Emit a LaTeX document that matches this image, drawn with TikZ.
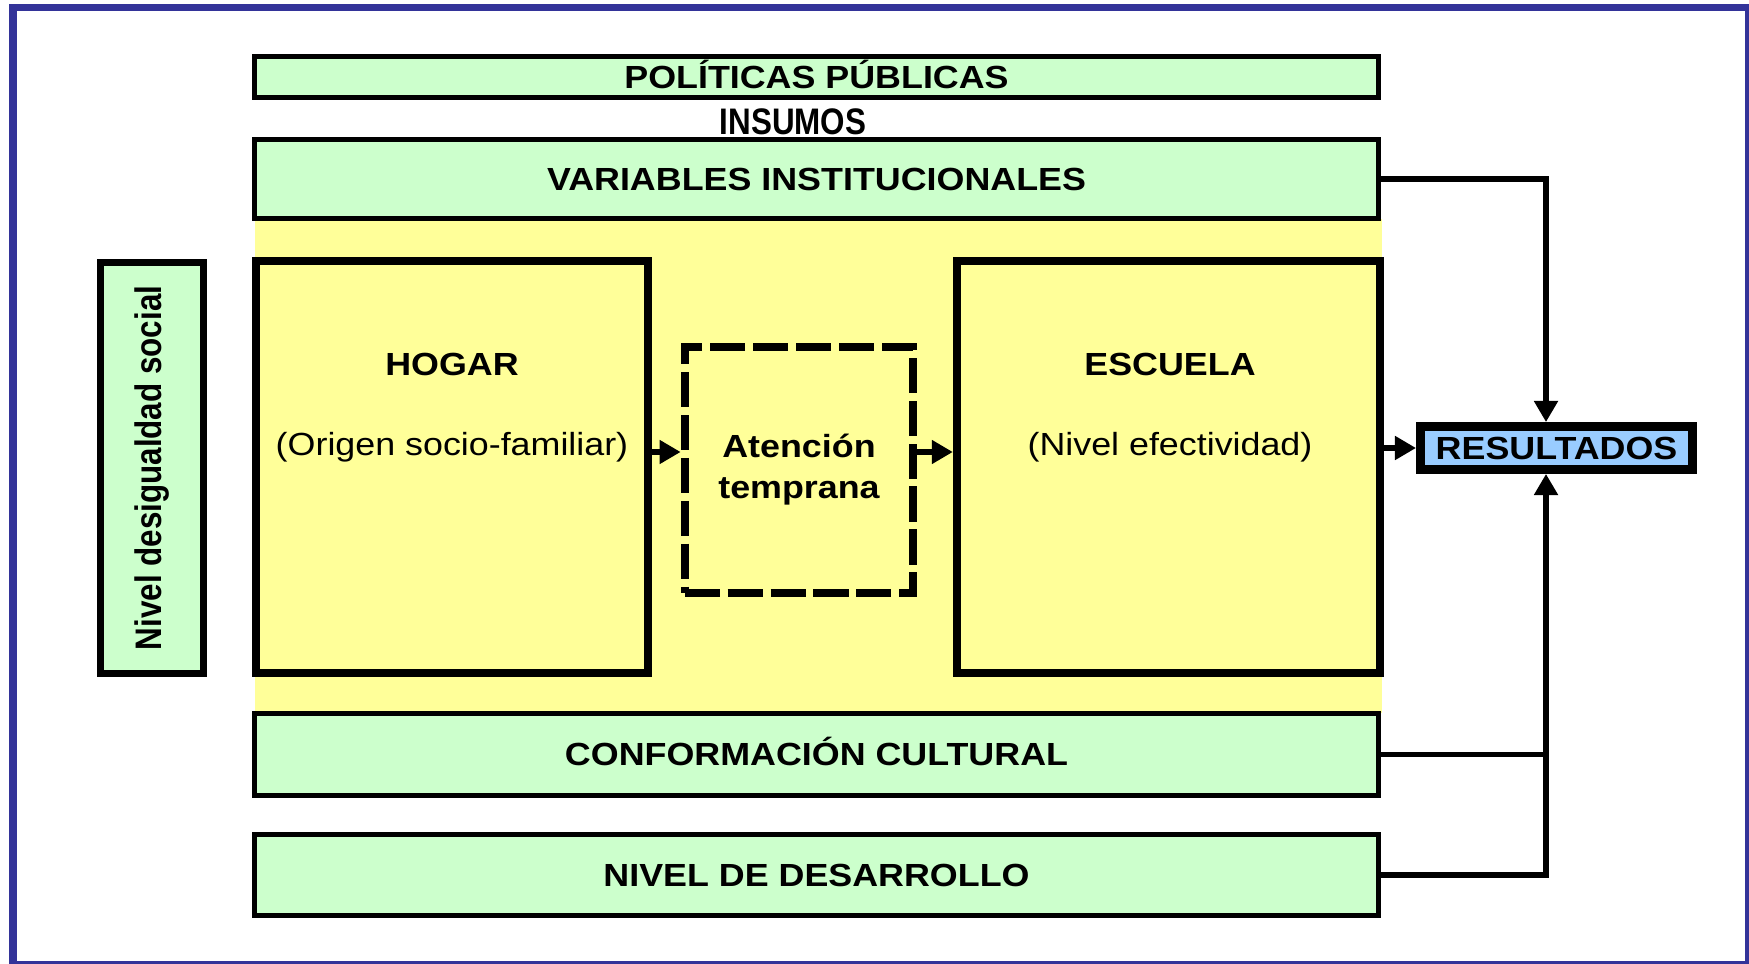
\documentclass[tikz,border=0pt]{standalone}
\usepackage{fontspec}
\setmainfont{Liberation Sans}[FakeStretch=1.12]
\newfontfamily\narrowsf{Liberation Sans}[FakeStretch=0.85]
\usetikzlibrary{arrows.meta,positioning}
\definecolor{verde}{HTML}{CCFFCC}
\definecolor{amarillo}{HTML}{FFFF99}
\definecolor{celeste}{HTML}{99CCFF}
\definecolor{marco}{HTML}{333399}

\begin{document}
\begin{tikzpicture}[x=0.01cm,y=-0.01cm,
caja/.style={draw=black, line width=1.6pt, fill=verde, minimum width=11.23cm, inner sep=0pt, text height=6.5pt, text depth=0pt, font=\fontsize{9.1}{11}\selectfont\bfseries},
bloque/.style={draw=black, line width=2.3pt, fill=amarillo, inner sep=0pt},
txt/.style={inner sep=0pt, font=\fontsize{9.1}{11.7}\selectfont},
flecha/.style={line width=1.5pt, -{Triangle[length=6pt,width=6.5pt]}}]
\useasboundingbox (0,0) rectangle (1749,964);
\fill[white] (0,0) rectangle (1749,964);
\draw[marco, line width=2pt] (13,7.5) rectangle (1748.5,964.5);
\fill[amarillo] (255,219) rectangle (1382,713);
\node[caja, minimum height=0.41cm] (pol) at (816.5,77) {POLÍTICAS PÚBLICAS};
\node[inner sep=0pt, font=\fontsize{10.5}{12}\selectfont\narrowsf\bfseries] (ins) at (793,122) {INSUMOS};
\node[caja, minimum height=0.79cm] (vars) at (816.5,179) {VARIABLES INSTITUCIONALES};
\node[bloque, minimum width=3.91cm, minimum height=4.12cm] (hogar) at (452,467) {};
\node[txt, font=\fontsize{9.1}{11}\selectfont\bfseries] (hogart) at (452,364) {HOGAR};
\node[txt] (hogars) at (452,447) {(Origen socio-familiar)};
\node[bloque, dash pattern=on 10pt off 2.2pt, minimum width=2.285cm, minimum height=2.465cm,
 align=center, font=\fontsize{9.1}{11.7}\selectfont\bfseries] (aten) at (799,470) {Atención\\temprana};
\node[bloque, minimum width=4.23cm, minimum height=4.12cm] (esc) at (1168.5,467) {};
\node[txt, font=\fontsize{9.1}{11}\selectfont\bfseries] (esct) at (1170,364) {ESCUELA};
\node[txt] (escs) at (1170,447) {(Nivel efectividad)};
\node[draw=black, line width=2.5pt, fill=celeste, minimum width=2.72cm, minimum height=0.43cm, inner sep=0pt,
 text height=6.5pt, text depth=0pt, font=\fontsize{9.1}{11}\selectfont\bfseries] (result) at (1556.5,448) {RESULTADOS};
\node[draw=black, line width=2pt, fill=verde, rotate=90, minimum width=4.1cm, minimum height=1.02cm, inner sep=0pt,
 font=\fontsize{10.5}{12}\selectfont\narrowsf\bfseries] (nivel) at (152,468) {Nivel desigualdad social};
\node[caja, minimum height=0.82cm] (cult) at (816.5,754.5) {CONFORMACIÓN CULTURAL};
\node[caja, minimum height=0.81cm] (desa) at (816.5,875) {NIVEL DE DESARROLLO};
\coordinate (bus) at (1546,875);
\draw[flecha] (hogar.east |- 0,452) -- (aten.west |- 0,452);
\draw[flecha] (aten.east |- 0,452) -- (esc.west |- 0,452);
\draw[flecha] (esc.east |- 0,448) -- (result.west |- 0,448);
\draw[flecha] (vars.east) -| (bus |- result.north);
\draw[line width=1.5pt] (cult.east) -- (cult.east -| bus);
\draw[flecha] (desa.east) -- (bus) -- (bus |- result.south);
\end{tikzpicture}
\end{document}
